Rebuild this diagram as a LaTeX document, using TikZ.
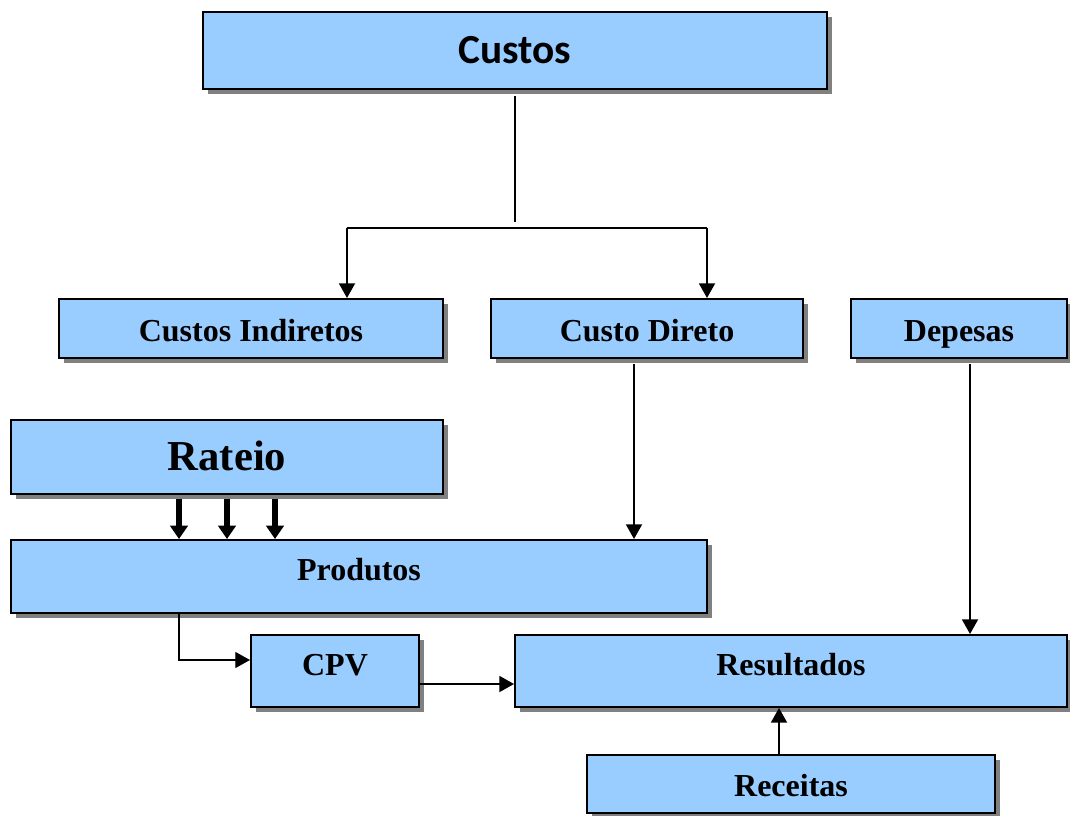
\documentclass[tikz,border=0pt]{standalone}
\usepackage{fontspec}
\setmainfont{Liberation Serif}
\newfontfamily\calib{Carlito}
\usetikzlibrary{arrows.meta,shadows}
\definecolor{boxblue}{HTML}{99CCFF}
\definecolor{shadowgray}{HTML}{808080}
\tikzset{
  box/.style={draw=black, line width=1.5pt, fill=boxblue, rectangle, inner sep=0pt,
    font=\bfseries\fontsize{24}{28}\selectfont, text height=16.8pt, text depth=4.8pt,
    drop shadow={shadow xshift=3.75pt, shadow yshift=-3.75pt, fill=shadowgray, opacity=1}},
  conn/.style={draw=black, line width=1.4pt, -{Triangle[length=11pt,width=12pt]}},
  thick conn/.style={draw=black, line width=4pt, -{Triangle[length=10pt,width=13pt]}},
  plain/.style={draw=black, line width=1.4pt}
}
\begin{document}
\begin{tikzpicture}[x=0.75pt,y=-0.75pt]
\useasboundingbox (0,0) rectangle (1070,816);
\node[box, minimum width=468pt, minimum height=57.75pt, font=\calib\bfseries\fontsize{31}{36}\selectfont, text height=21.7pt, text depth=6.2pt] (custos) at (515,50.5) {\raisebox{-2pt}{Custos}};
\node[box, minimum width=288pt, minimum height=44.25pt] (ci) at (251,328.5) {\raisebox{-3.5pt}{Custos Indiretos}};
\node[box, minimum width=234pt, minimum height=44.25pt] (cd) at (647,328.5) {\raisebox{-3.5pt}{Custo Direto}};
\node[box, minimum width=162pt, minimum height=44.25pt] (dep) at (959,328.5) {\raisebox{-3.5pt}{Depesas}};
\node[box, minimum width=324pt, minimum height=55.5pt, font=\bfseries\fontsize{32}{38}\selectfont, text height=22.4pt, text depth=6.4pt] (rat) at (227,457) {\raisebox{-2pt}{Rateio}};
\node[box, minimum width=522pt, minimum height=54.75pt] (prod) at (359,576.5) {\raisebox{3pt}{Produtos}};
\node[box, minimum width=126pt, minimum height=54pt] (cpv) at (335,671) {\raisebox{3pt}{CPV}};
\node[box, minimum width=414pt, minimum height=54pt] (res) at (791,671) {\raisebox{3pt}{Resultados}};
\node[box, minimum width=306pt, minimum height=43.5pt] (rec) at (791,784) {\raisebox{-3pt}{Receitas}};
% Custos split
\coordinate (cs1) at (515,96);
\coordinate (cs2) at (515,222);
\draw[plain] (cs1) -- (cs2);
\coordinate (hl) at (347,228);
\coordinate (hr) at (707,228);
\draw[plain] (hl) -- (hr);
\draw[conn] (hl) -- (ci.north -| hl);
\draw[conn] (hr) -- (cd.north -| hr);
% direct cost to produtos
\coordinate (cdb) at (634,364);
\draw[conn] (cdb) -- (prod.north -| cdb);
% despesas to resultados
\coordinate (depb) at (970,364);
\draw[conn] (depb) -- (res.north -| depb);
% rateio arrows
\foreach \xx in {179,227,275}{
  \coordinate (ra\xx) at (\xx,499);
  \draw[thick conn] (ra\xx) -- (prod.north -| ra\xx);
}
% produtos to cpv
\coordinate (pb) at (179,612);
\coordinate (pc) at (179,660);
\draw[draw=black, line width=0.9pt, -{Triangle[length=11pt,width=12pt]}] (pb) -- (pc) -- (cpv.west |- pc);
% cpv to resultados
\coordinate (cr) at (419,684);
\draw[conn] (cr) -- (res.west |- cr);
% receitas to resultados
\coordinate (rr) at (779,755);
\draw[conn] (rr) -- (res.south -| rr);
\end{tikzpicture}
\end{document}
